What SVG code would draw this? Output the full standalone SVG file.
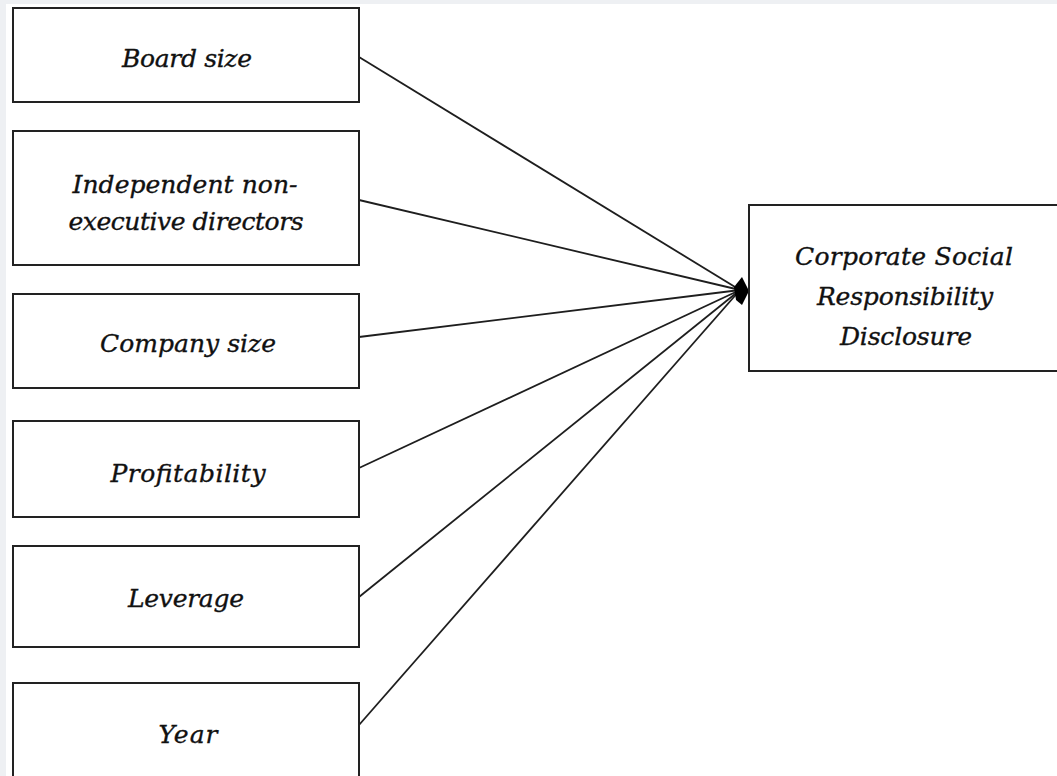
<svg xmlns="http://www.w3.org/2000/svg" width="1057" height="776" viewBox="0 0 1057 776">
  <style>
    .box { fill: #ffffff; stroke: #222222; stroke-width: 2; }
    .lbl { font-family: "DejaVu Serif", "Liberation Serif", serif; font-style: italic; font-size: 25px; fill: #111111; stroke: #111111; stroke-width: 0.35; text-anchor: middle; }
    .link { stroke: #1e1e1e; stroke-width: 1.8; fill: none; }
  </style>
  <rect width="1057" height="776" fill="#ffffff"/>
  <!-- faint page edge -->
  <rect x="0" y="0" width="1057" height="4" fill="#eef0f3"/>
  <rect x="0" y="0" width="6" height="776" fill="#eef0f3"/>

  <g id="connectors">
    <line class="link" x1="359" y1="57" x2="740" y2="290"/>
    <line class="link" x1="359" y1="200" x2="740" y2="290"/>
    <line class="link" x1="359" y1="337" x2="740" y2="290"/>
    <line class="link" x1="359" y1="468" x2="740" y2="290"/>
    <line class="link" x1="359" y1="597" x2="740" y2="290"/>
    <line class="link" x1="359" y1="725" x2="740" y2="290"/>
    <polygon points="749,291 742,277 734,287 736,300 742,305" fill="#000000"/>
  </g>

  <g id="board-size">
    <rect class="box" x="13" y="8" width="346" height="94"/>
    <text class="lbl" x="187" y="67" textLength="130" lengthAdjust="spacing">Board size</text>
  </g>

  <g id="independent-directors">
    <rect class="box" x="13" y="131" width="346" height="134"/>
    <text class="lbl" x="185" y="193" textLength="225" lengthAdjust="spacing">Independent non-</text>
    <text class="lbl" x="186" y="230" textLength="235" lengthAdjust="spacing">executive directors</text>
  </g>

  <g id="company-size">
    <rect class="box" x="13" y="294" width="346" height="94"/>
    <text class="lbl" x="188" y="352" textLength="176" lengthAdjust="spacing">Company size</text>
  </g>

  <g id="profitability">
    <rect class="box" x="13" y="421" width="346" height="96"/>
    <text class="lbl" x="188" y="482" textLength="155" lengthAdjust="spacing">Profitability</text>
  </g>

  <g id="leverage">
    <rect class="box" x="13" y="546" width="346" height="101"/>
    <text class="lbl" x="186" y="607" textLength="116" lengthAdjust="spacing">Leverage</text>
  </g>

  <g id="year">
    <rect class="box" x="13" y="683" width="346" height="100"/>
    <text class="lbl" x="188" y="743" textLength="59" lengthAdjust="spacing">Year</text>
  </g>

  <g id="csr-disclosure">
    <rect class="box" x="749" y="205" width="312" height="166"/>
    <text class="lbl" x="904" y="265" textLength="218" lengthAdjust="spacing">Corporate Social</text>
    <text class="lbl" x="905" y="305" textLength="176" lengthAdjust="spacing">Responsibility</text>
    <text class="lbl" x="906" y="345" textLength="132" lengthAdjust="spacing">Disclosure</text>
  </g>
</svg>
